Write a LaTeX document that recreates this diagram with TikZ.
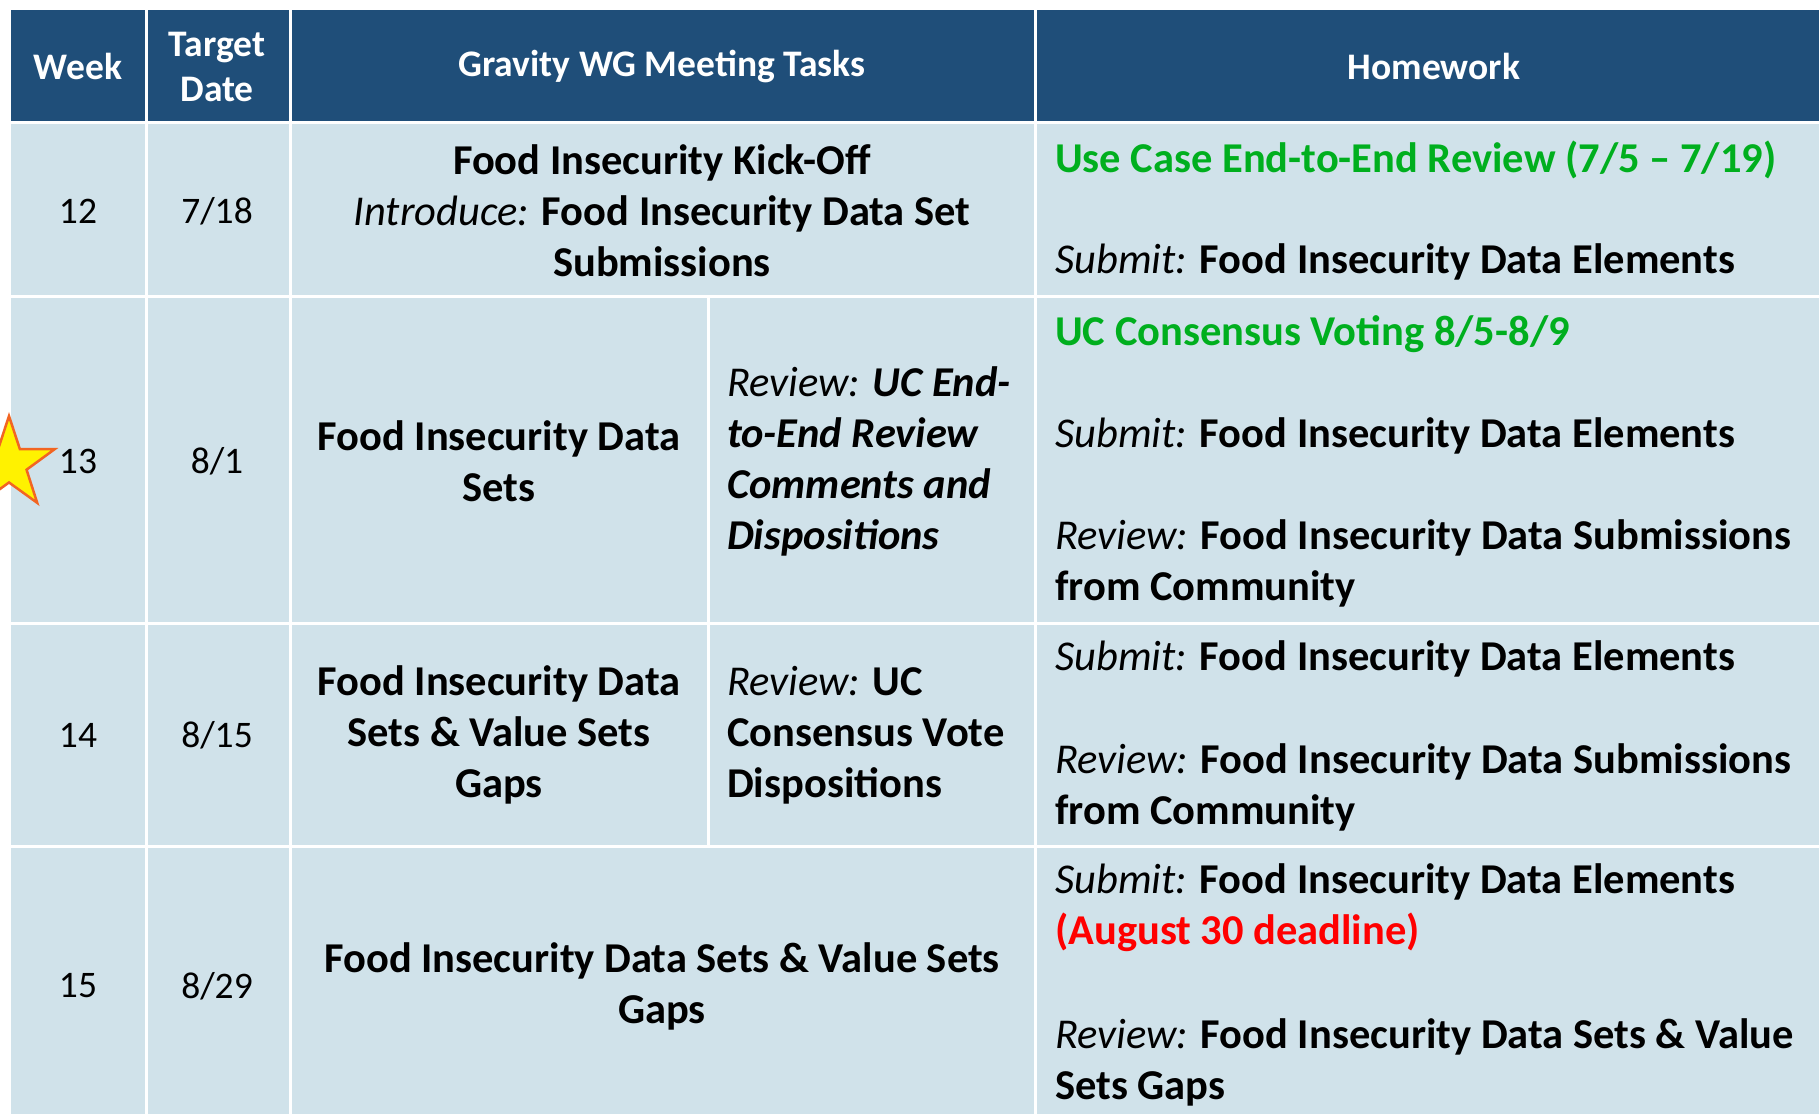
\documentclass[tikz,border=0pt]{standalone}
\usepackage{fontspec}
\setmainfont{Carlito}
\usetikzlibrary{shapes.geometric}

\definecolor{hdrblue}{RGB}{31,78,121}
\definecolor{rowblue}{RGB}{208,226,234}
\definecolor{hwgreen}{RGB}{0,175,30}
\definecolor{starline}{RGB}{242,101,34}

\newcommand{\lead}[1]{{\mdseries\itshape #1}}

\tikzset{
  hdr/.style={text=white, font=\fontsize{37.5}{45}\selectfont\bfseries, align=center, inner sep=0pt},
  num/.style={font=\fontsize{37.5}{45}\selectfont, inner sep=0pt},
  task/.style={font=\fontsize{42.5}{51}\selectfont\bfseries, align=center, inner sep=0pt},
  hw/.style={font=\fontsize{42.5}{51}\selectfont\bfseries, align=left, anchor=west, inner sep=0pt},
  sep/.style={white, line width=3pt}
}

\begin{document}
\begin{tikzpicture}[x=1pt,y=-1pt]

\useasboundingbox (0,0) rectangle (1819,1114);
\fill[white] (0,0) rectangle (1819,1114);

    \begin{scope} % Cell fills
        \fill[rowblue] (11,10) rectangle (1819,1114);
        \fill[hdrblue] (11,10) rectangle (1819,122);
    \end{scope}

    \begin{scope} % Cell borders
        \draw[sep] (146,10)  -- (146,1114);
        \draw[sep] (290,10)  -- (290,1114);
        \draw[sep] (1035,10) -- (1035,1114);
        \draw[sep] (708,296) -- (708,846);
        \draw[sep] (11,122)  -- (1819,122);
        \draw[sep] (11,296)  -- (1819,296);
        \draw[sep] (11,623)  -- (1819,623);
        \draw[sep] (11,846)  -- (1819,846);
    \end{scope}

% header
\node[hdr] (hweek) at (78,66) {Week};
\node[hdr] (hdate) at (217,67) {Target\\Date};
\node[hdr] (htask) at (662,66) {Gravity WG Meeting Tasks};
\node[hdr] (hhome) at (1434,66) {Homework};

% week 12
\node[num] (w12) at (78,211) {12};
\node[num] (d12) at (217,211) {7/18};
\node[task] (t12) at (662,211) {Food Insecurity Kick-Off\\\lead{Introduce:} Food Insecurity Data Set\\Submissions};
\node[hw, text=hwgreen] (g12) at (1055,160) {Use Case End-to-End Review (7/5 -- 7/19)};
\node[hw] (s12) at (1055,262) {\lead{Submit:} Food Insecurity Data Elements};

% week 13
\node[num] (w13) at (78,461) {13};
\node[num] (d13) at (217,461) {8/1};
\node[task] (t13) at (499,461) {Food Insecurity Data\\Sets};
\node[hw] (r13) at (727,461) {\lead{Review:} \itshape UC End-\\\itshape to-End Review\\\itshape Comments and\\\itshape Dispositions};
\node[hw, text=hwgreen] (g13) at (1055,334) {UC Consensus Voting 8/5-8/9};
\node[hw] (s13) at (1055,436) {\lead{Submit:} Food Insecurity Data Elements};
\node[hw] (v13) at (1055,563) {\lead{Review:} Food Insecurity Data Submissions\\from Community};

% week 14
\node[num] (w14) at (78,735) {14};
\node[num] (d14) at (217,735) {8/15};
\node[task] (t14) at (499,735) {Food Insecurity Data\\Sets \& Value Sets\\Gaps};
\node[hw] (r14) at (727,735) {\lead{Review:} UC\\Consensus Vote\\Dispositions};
\node[hw] (s14) at (1055,659) {\lead{Submit:} Food Insecurity Data Elements};
\node[hw] (v14) at (1055,787) {\lead{Review:} Food Insecurity Data Submissions\\from Community};

% week 15
\node[num] (w15) at (78,986) {15};
\node[num] (d15) at (217,986) {8/29};
\node[task] (t15) at (662,986) {Food Insecurity Data Sets \& Value Sets\\Gaps};
\node[hw] (s15) at (1055,908) {\lead{Submit:} Food Insecurity Data Elements\\\textcolor{red}{(August 30 deadline)}};
\node[hw] (v15) at (1055,1062) {\lead{Review:} Food Insecurity Data Sets \& Value\\Sets Gaps};

% star
\node[star, star points=5, star point ratio=2.6, minimum size=96pt, fill=yellow, draw=starline, line width=2.5pt, inner sep=0pt] (mark13) at (9,464) {};

\end{tikzpicture}
\end{document}
